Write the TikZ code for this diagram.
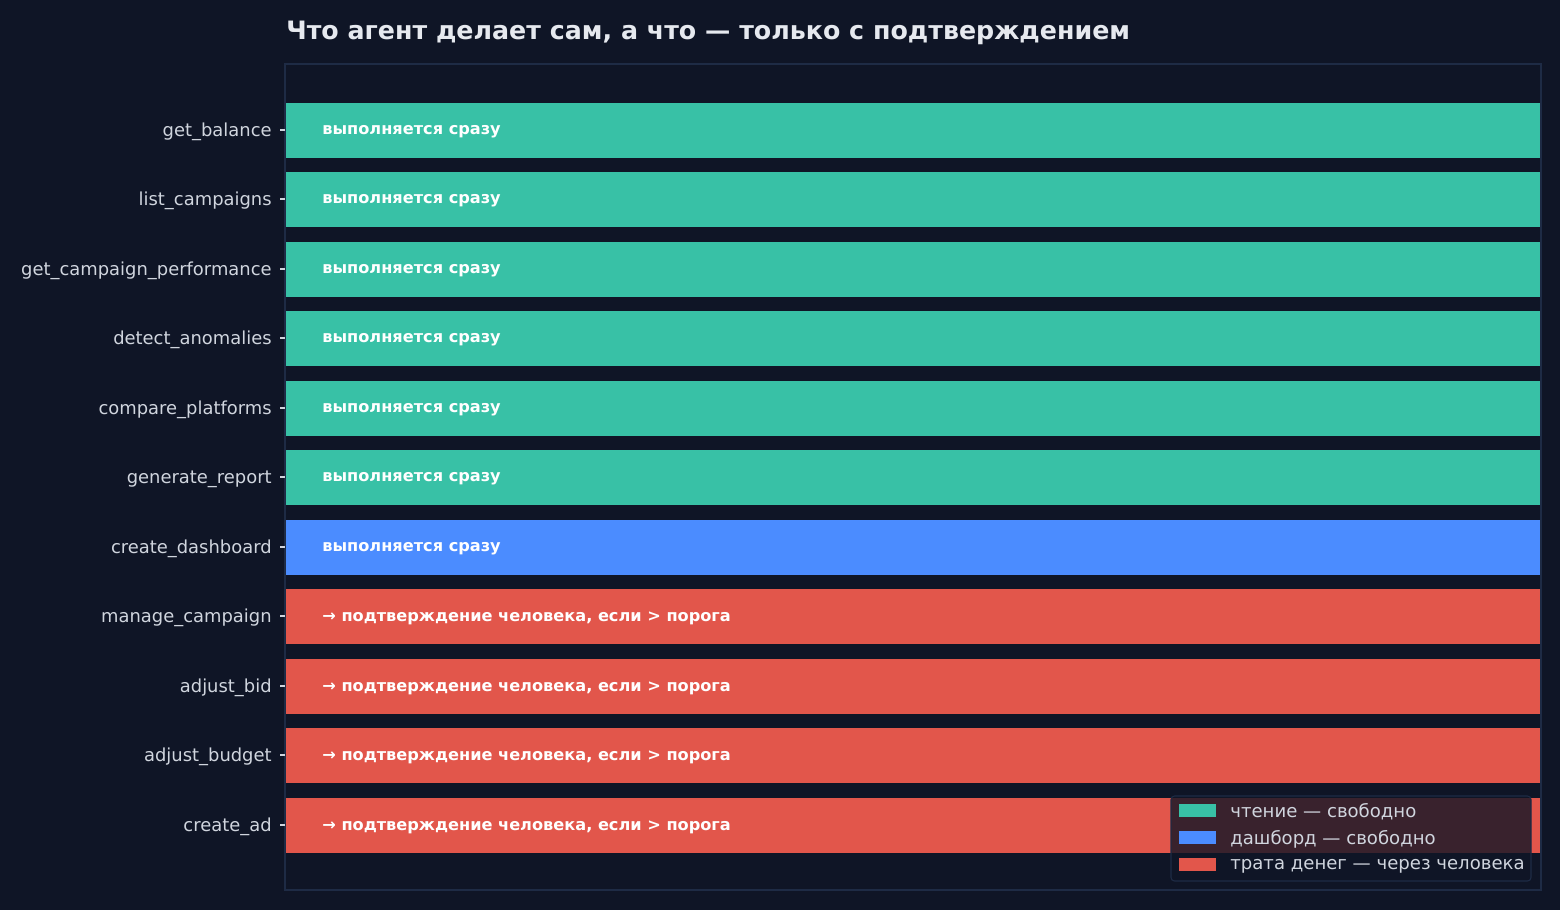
\documentclass[tikz,border=0pt]{standalone}
\usepackage{fontspec}
\setmainfont{DejaVu Sans}
\usepackage{tikz}

\definecolor{bgc}{HTML}{0F1526}
\definecolor{framec}{HTML}{1E2B45}
\definecolor{readc}{HTML}{38C1A6}
\definecolor{dashc}{HTML}{4B8CFF}
\definecolor{spendc}{HTML}{E2564B}
\definecolor{labc}{HTML}{D0D5DE}
\definecolor{titc}{HTML}{E6E9EF}

\tikzset{
  bar/.style={draw=none,inner sep=0pt,minimum width=1254*0.02cm,minimum height=55*0.02cm,anchor=west},
  bartext/.style={text=white,font=\bfseries\fontsize{9.2}{11}\selectfont,anchor=west,inner sep=0pt,yshift=-2*0.02cm},
  ticklab/.style={text=labc,font=\fontsize{10.2}{12}\selectfont,anchor=east,inner sep=0pt,yshift=-2*0.02cm},
  legtext/.style={text=labc,font=\fontsize{10.3}{12}\selectfont,anchor=west,inner sep=0pt,yshift=-2*0.02cm},
  legpatch/.style={draw=none,inner sep=0pt,minimum width=37*0.02cm,minimum height=13*0.02cm}
}

\begin{document}
\begin{tikzpicture}[x=0.02cm,y=-0.02cm]
\fill[bgc] (0,0) rectangle (1560,910);
\useasboundingbox (0,0) rectangle (1560,910);

% title
\node[anchor=west,inner sep=0pt,text=titc,font=\bfseries\fontsize{14.4}{17}\selectfont] (title) at (286,33)
  {Что агент делает сам, а что — только с подтверждением};

% axes
\draw[framec,line width=0.8pt] (285,64) rectangle (1541,890);

% bars
\foreach \nm/\yy/\col/\txt in {
  get\_balance/130/readc/выполняется сразу,
  list\_campaigns/199/readc/выполняется сразу,
  get\_campaign\_performance/269/readc/выполняется сразу,
  detect\_anomalies/338/readc/выполняется сразу,
  compare\_platforms/408/readc/выполняется сразу,
  generate\_report/477/readc/выполняется сразу,
  create\_dashboard/547/dashc/выполняется сразу,
  manage\_campaign/616/spendc/→ подтверждение человека{,} если > порога,
  adjust\_bid/686/spendc/→ подтверждение человека{,} если > порога,
  adjust\_budget/755/spendc/→ подтверждение человека{,} если > порога,
  create\_ad/825/spendc/→ подтверждение человека{,} если > порога}
{
  \node[bar,fill=\col] (bar-\yy) at (286,\yy) {};
  \node[bartext] (txt-\yy) at (322,\yy) {\txt};
  \draw[labc,line width=0.6pt] (280,\yy) -- (285,\yy);
  \node[ticklab] (lab-\yy) at (272,\yy) {\nm};
}

% legend
\draw[framec,fill=bgc,fill opacity=0.8,rounded corners=2pt,line width=0.6pt] (1171,796) rectangle (1531,881);
\node[legpatch,fill=readc] (p1) at (1197.5,810) {};
\node[legtext] (l1) at (1230,810) {чтение — свободно};
\node[legpatch,fill=dashc] (p2) at (1197.5,837) {};
\node[legtext] (l2) at (1230,837) {дашборд — свободно};
\node[legpatch,fill=spendc] (p3) at (1197.5,864) {};
\node[legtext] (l3) at (1230,864) {трата денег — через человека};
\end{tikzpicture}
\end{document}
